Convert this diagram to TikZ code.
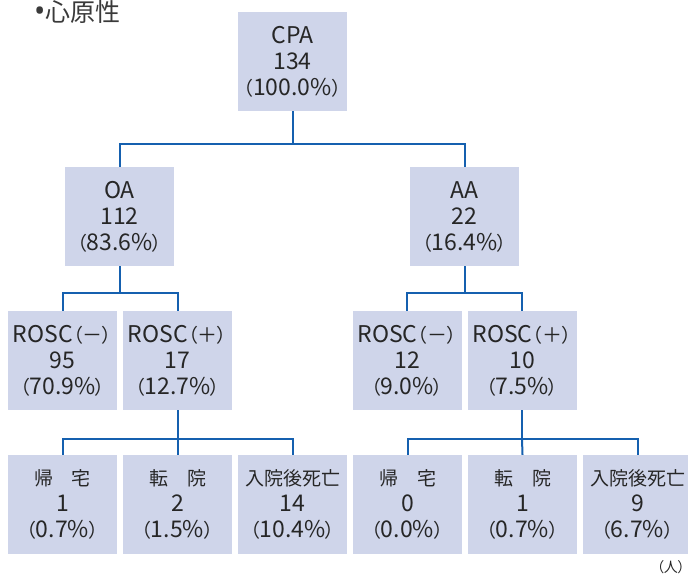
\documentclass[tikz,border=0pt]{standalone}
\usepackage{fontspec}
\setmainfont{Noto Sans CJK JP}
\newfontfamily\jpp[RawFeature=+palt]{Noto Sans CJK JP}
\newfontfamily\jpf{Noto Sans CJK JP}
\newfontfamily\latinfont{Noto Sans}
\newcommand\cj[1]{{\jpp\fontsize{19}{26}\selectfont #1}}
\newcommand\sgn[1]{{\jpf\fontsize{20}{26}\selectfont #1}}
\definecolor{boxfill}{HTML}{CFD5EA}
\definecolor{linkblue}{HTML}{1560AF}
\definecolor{txt}{HTML}{262626}
\definecolor{titlecol}{HTML}{3A3A3A}
\begin{document}
\begin{tikzpicture}[x=1pt,y=-1pt,
  cell/.style={fill=boxfill, draw=none, minimum width=109pt, minimum height=99pt,
    inner sep=0pt, align=center, text=txt, font=\fontsize{23}{26}\selectfont},
  link/.style={draw=linkblue, line width=2pt}]
\useasboundingbox (0,0) rectangle (688,578);

% title
\node[anchor=base west, inner sep=0pt, text=titlecol, font=\fontsize{25}{25}\selectfont]
  (title) at (34,22) {{\latinfont\fontsize{30}{30}\selectfont •}心原性};

% level 0
\node[cell] (cpa) at (292.5,61.5) {CPA\\134\\\cj{（}100.0\%\cj{）}};
% level 1
\node[cell] (oa) at (119.5,216.5) {OA\\112\\\cj{（}83.6\%\cj{）}};
\node[cell] (aa) at (464.5,216.5) {AA\\22\\\cj{（}16.4\%\cj{）}};
% level 2
\node[cell] (on) at (62.5,360.5) {ROSC\cj{（}\sgn{－}\cj{）}\\95\\\cj{（}70.9\%\cj{）}};
\node[cell] (op) at (177.5,360.5) {ROSC\cj{（}\sgn{＋}\cj{）}\\17\\\cj{（}12.7\%\cj{）}};
\node[cell] (an) at (407,360.5) {ROSC\cj{（}\sgn{－}\cj{）}\\12\\\cj{（}9.0\%\cj{）}};
\node[cell] (ap) at (522,360.5) {ROSC\cj{（}\sgn{＋}\cj{）}\\10\\\cj{（}7.5\%\cj{）}};
% level 3
\node[cell] (o1) at (62.5,504.5) {\cj{帰　宅}\\1\\\cj{（}0.7\%\cj{）}};
\node[cell] (o2) at (177.5,504.5) {\cj{転　院}\\2\\\cj{（}1.5\%\cj{）}};
\node[cell] (o3) at (292.5,504.5) {\cj{入院後死亡}\\14\\\cj{（}10.4\%\cj{）}};
\node[cell] (a1) at (407.5,504.5) {\cj{帰　宅}\\0\\\cj{（}0.0\%\cj{）}};
\node[cell] (a2) at (522.5,504.5) {\cj{転　院}\\1\\\cj{（}0.7\%\cj{）}};
\node[cell] (a3) at (637.5,504.5) {\cj{入院後死亡}\\9\\\cj{（}6.7\%\cj{）}};

% unit
\node[anchor=base east, inner sep=0pt, text=txt] (unit) at (685,572)
  {{\jpp\fontsize{14}{14}\selectfont （人）}};

% junctions
\coordinate (j0) at (292.5,144);
\coordinate (j1) at (119.5,292.5);
\coordinate (j2) at (464.5,292.5);
\coordinate (j3) at (177.5,439);
\coordinate (j4) at (522,439);

% connectors
\draw[link] (cpa.south) -- (j0);
\draw[link] (oa.north) |- (j0) -| (aa.north);
\draw[link] (oa.south) -- (j1);
\draw[link] (on.north) |- (j1) -| (op.north);
\draw[link] (aa.south) -- (j2);
\draw[link] (an.north) |- (j2) -| (ap.north);
\draw[link] (op.south) -- (o2.north);
\draw[link] (o1.north) |- (j3) -| (o3.north);
\draw[link] (ap.south) -- (j4);
\draw[link] (a1.north) |- (j4) -| (a3.north);
\draw[link] (j4) -- (a2.north);
\end{tikzpicture}
\end{document}
